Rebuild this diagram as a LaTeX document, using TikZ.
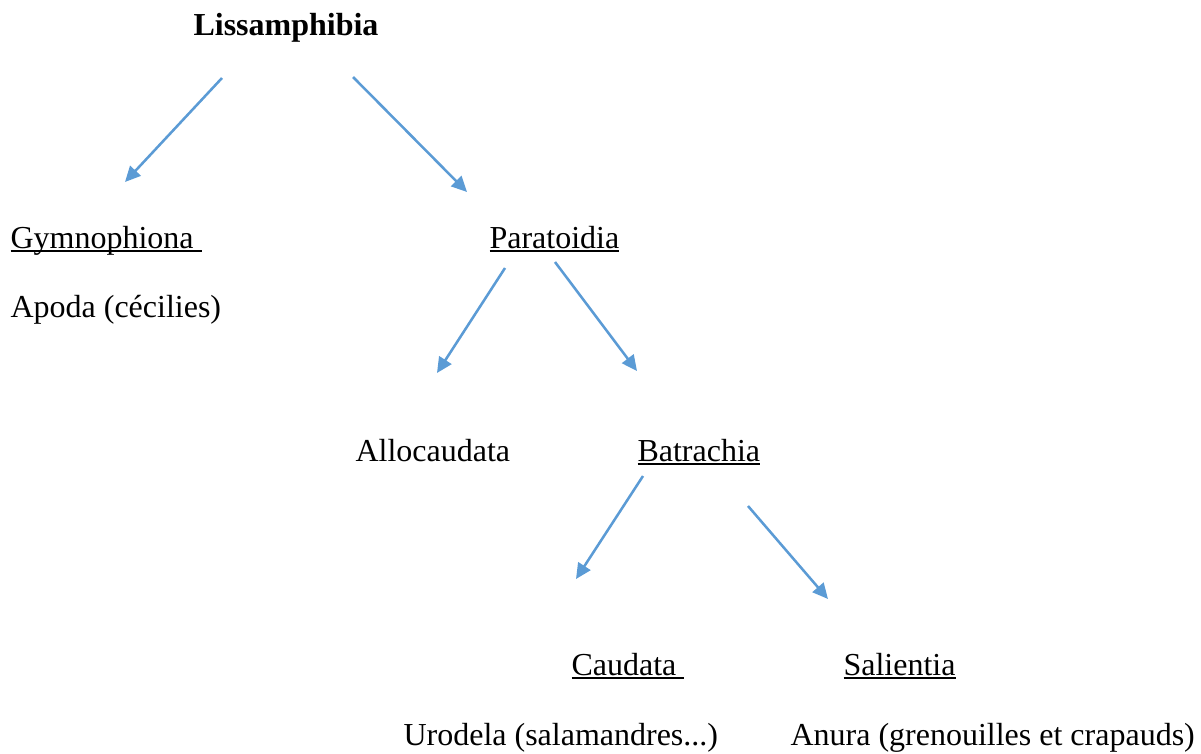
\documentclass[tikz,border=0pt]{standalone}
\usepackage{fontspec}
\setmainfont{Liberation Serif}
\usetikzlibrary{arrows.meta}

\newcommand\ulword[1]{\setbox0\hbox{#1}\rlap{\rule[-1.6pt]{\wd0}{0.7pt}}\box0}

\begin{document}
\begin{tikzpicture}[
  x=0.375pt, y=-0.375pt,
  >={Triangle[length=5.8pt,width=5.4pt]},
  taxon/.style={anchor=base west, inner sep=0pt, font=\fontsize{12}{14}\selectfont},
  link/.style={->, line width=0.95pt, color=linkblue}
]
  \definecolor{linkblue}{HTML}{5B9BD5}
  \useasboundingbox (0,0) rectangle (1201,753);

  % taxa
  \node[taxon, font=\fontsize{12}{14}\selectfont\bfseries] (lis) at (193,35) {Lissamphibia};
  \node[taxon] (gym) at (10,248) {\ulword{Gymnophiona\ }};
  \node[taxon] (apo) at (10,317) {Apoda (cécilies)};
  \node[taxon] (par) at (489,248) {\ulword{Paratoidia}};
  \node[taxon] (all) at (355,461) {Allocaudata};
  \node[taxon] (bat) at (637,461) {\ulword{Batrachia}};
  \node[taxon] (cau) at (571,675) {\ulword{Caudata\ }};
  \node[taxon] (sal) at (843,675) {\ulword{Salientia}};
  \node[taxon] (uro) at (403,745) {Urodela (salamandres...)};
  \node[taxon] (anu) at (790,745) {Anura (grenouilles et crapauds)};

  % arrow ends
  \coordinate (lis-l) at (222,78);  \coordinate (gym-t) at (125,182);
  \coordinate (lis-r) at (353,77);  \coordinate (par-t) at (467,192);
  \coordinate (par-l) at (505,268); \coordinate (all-t) at (437,373);
  \coordinate (par-r) at (555,262); \coordinate (bat-t) at (637,371);
  \coordinate (bat-l) at (643,476); \coordinate (cau-t) at (576,579);
  \coordinate (bat-r) at (748,506); \coordinate (sal-t) at (828,599);

  \draw[link] (lis-l) -- (gym-t);
  \draw[link] (lis-r) -- (par-t);
  \draw[link] (par-l) -- (all-t);
  \draw[link] (par-r) -- (bat-t);
  \draw[link] (bat-l) -- (cau-t);
  \draw[link] (bat-r) -- (sal-t);
\end{tikzpicture}
\end{document}
